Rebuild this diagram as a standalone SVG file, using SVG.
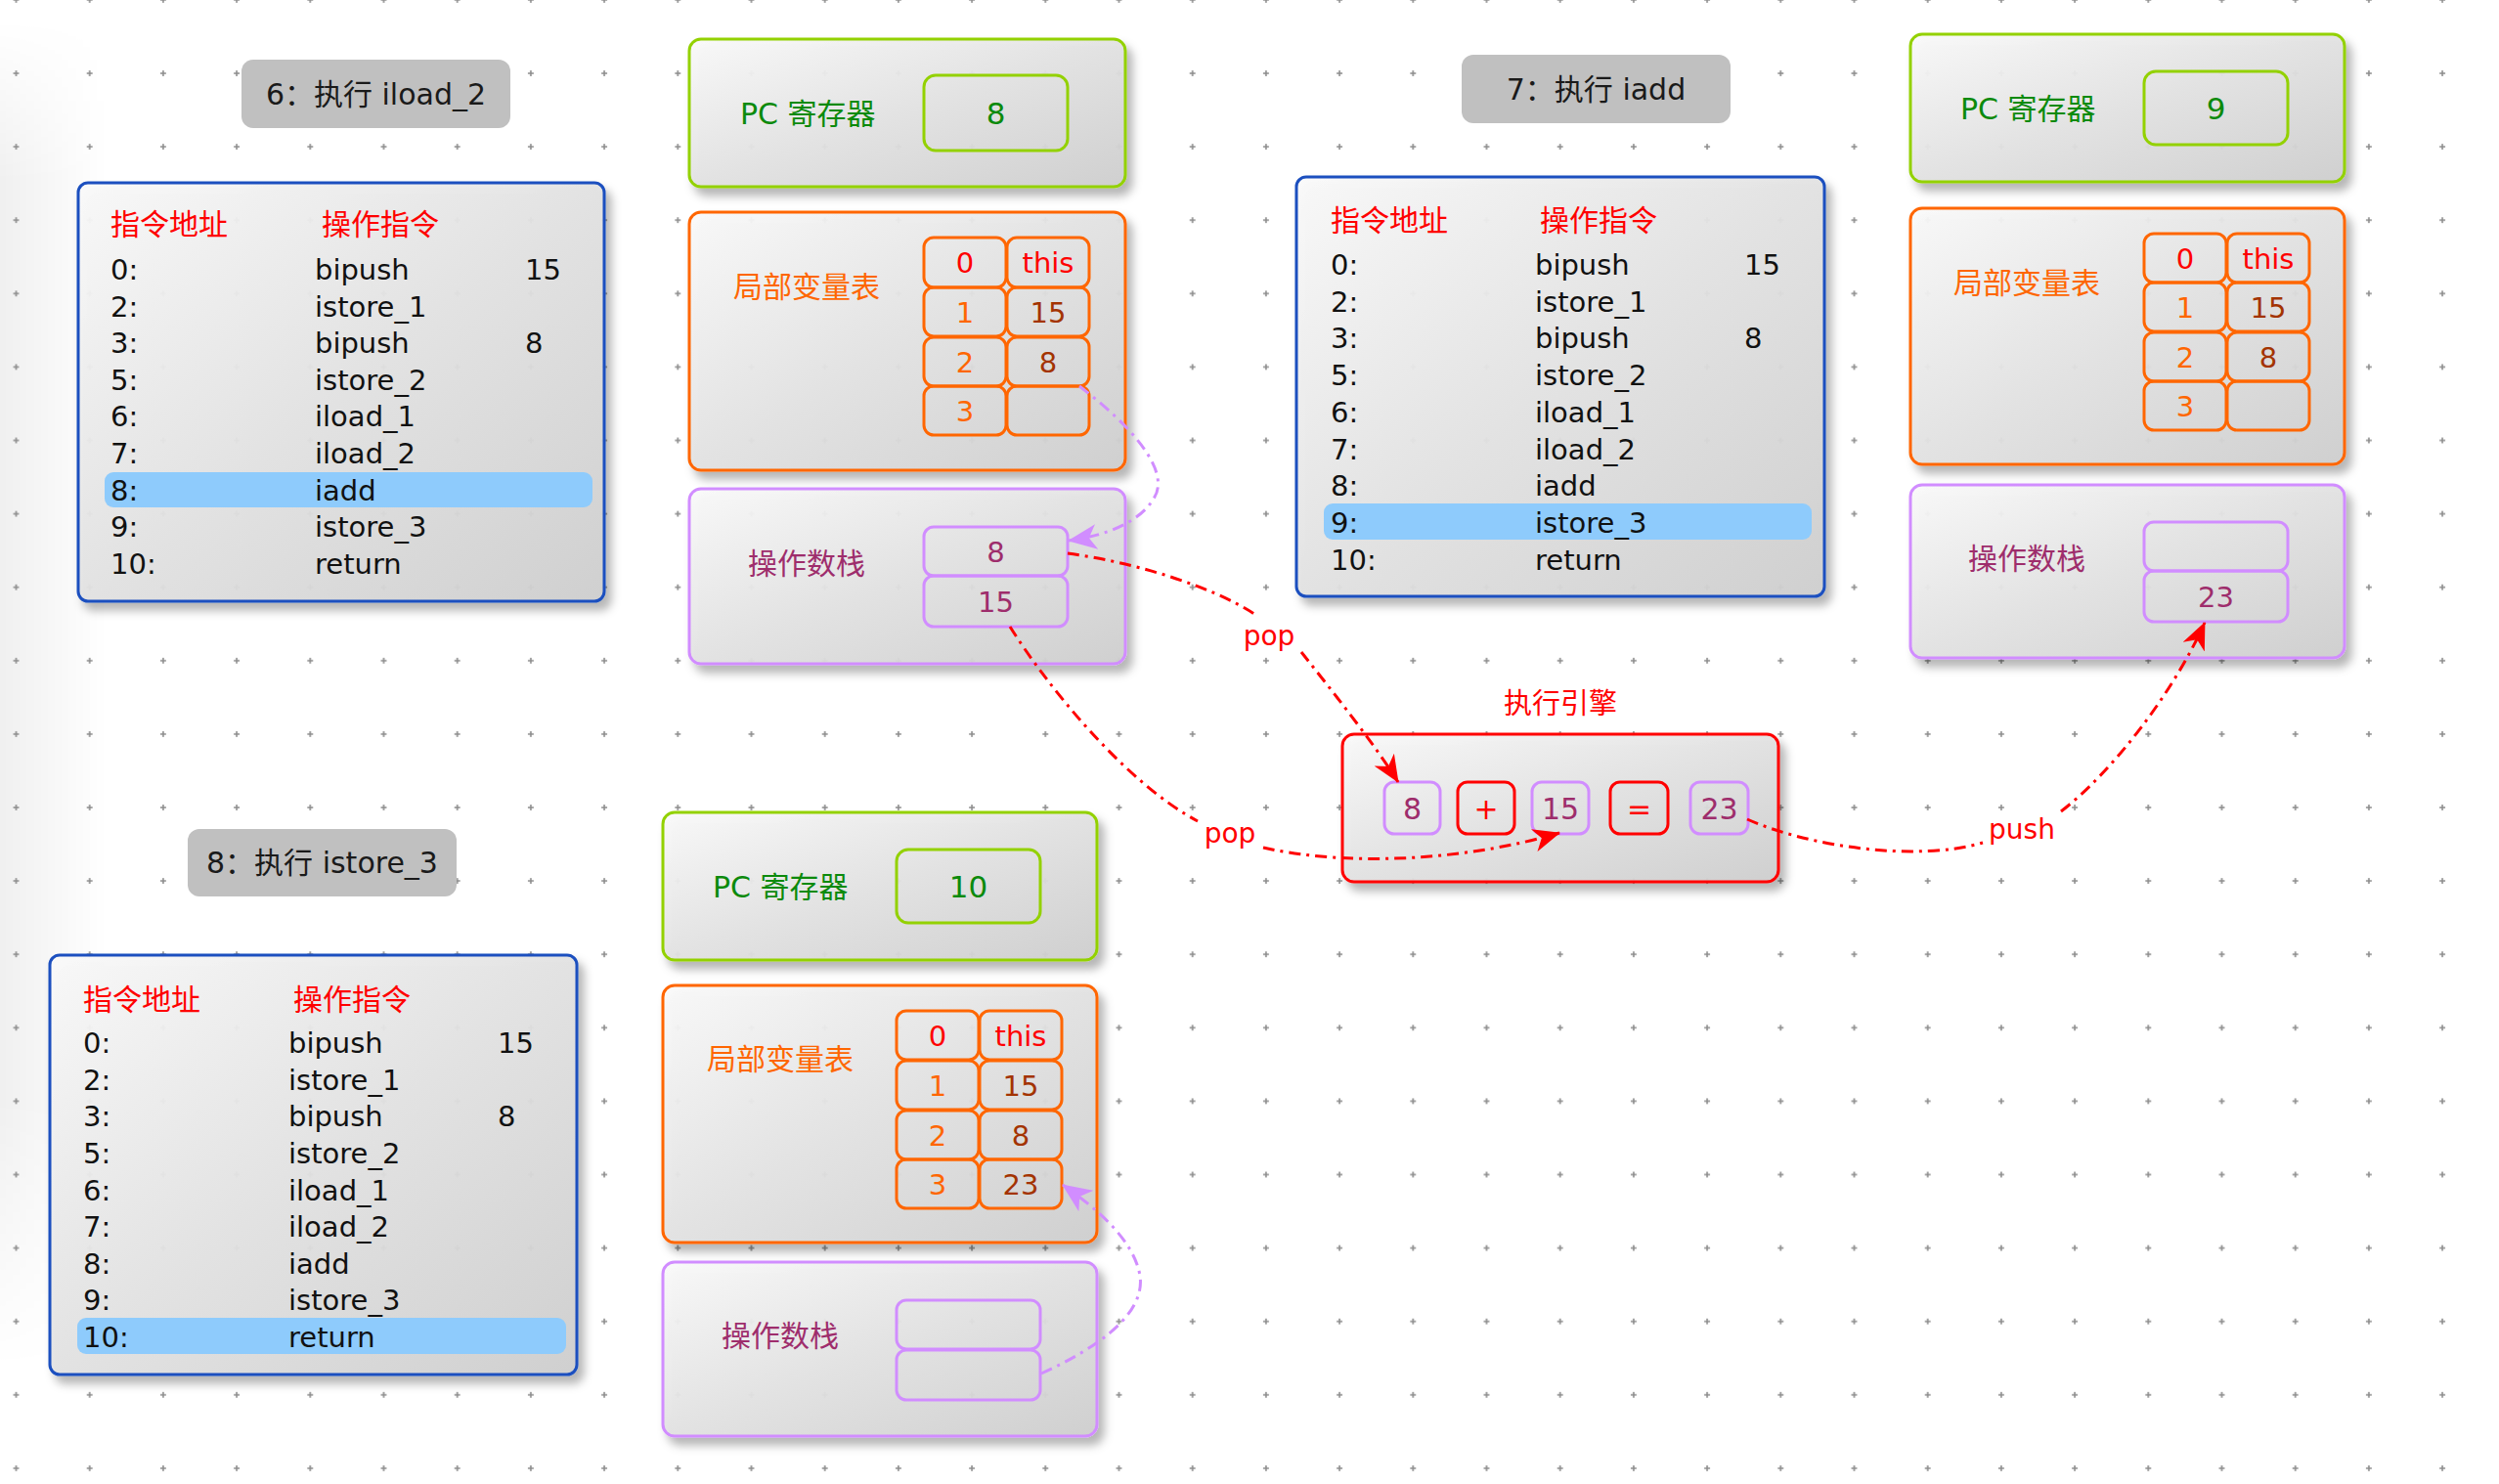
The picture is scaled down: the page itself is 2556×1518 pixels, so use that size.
<svg xmlns="http://www.w3.org/2000/svg" width="2556" height="1518" viewBox="0 0 2556 1518">
<defs>
<style>
text{font-family:"DejaVu Sans","Noto Sans CJK SC",sans-serif;}
.box{fill:url(#bg);stroke-width:3;filter:url(#sh)}
.cell{fill:none;stroke-width:3}
.bl{stroke:#1a4fbf}.gr{stroke:#93d100}.or{stroke:#ff6600}.pu{stroke:#d18dff}.rd{stroke:#ff0000}
.title{fill:#c0c0c0}
.tt{font-size:30px;fill:#1a1a1a;text-anchor:middle}
.hd{font-size:30px;fill:#ff0000}
.ls{font-size:29px;fill:#111}
.hl{fill:#8ecbfc}
.pc{font-size:30px;fill:#0c8a0c}
.lv{font-size:30px;fill:#ff6600}
.os{font-size:30px;fill:#9e2d6c}
.c{font-size:29px;text-anchor:middle}
.cr{fill:#ff0000}.co{fill:#ff6600}.cb{fill:#a33300}.cp{fill:#9e2d6c}.cg{fill:#0c8a0c}
.lnr{fill:none;stroke:#ff0000;stroke-width:3;stroke-dasharray:12 6 3 6}
.lnp{fill:none;stroke:#d18dff;stroke-width:3;stroke-dasharray:12 6 3 6}
.lab{font-size:28px;fill:#ff0000;text-anchor:middle}
</style>
<pattern id="grid" patternUnits="userSpaceOnUse" x="-21.1" y="-37.65" width="75.2" height="75.1">
<path d="M34.6,37.55h6M37.6,34.55v6" stroke="#8c8c8c" stroke-width="1.6"/>
</pattern>
<linearGradient id="bg" x1="0" y1="0" x2="1" y2="1">
<stop offset="0" stop-color="#fafafa" stop-opacity="0.94"/>
<stop offset="0.5" stop-color="#e3e3e3" stop-opacity="0.94"/>
<stop offset="1" stop-color="#cfcfcf" stop-opacity="0.94"/>
</linearGradient>
<linearGradient id="lside" x1="0" y1="0" x2="1" y2="0">
<stop offset="0" stop-color="#000" stop-opacity="0.06"/>
<stop offset="1" stop-color="#000" stop-opacity="0"/>
</linearGradient>
<linearGradient id="vfade" x1="0" y1="0" x2="0" y2="1">
<stop offset="0" stop-color="#fff" stop-opacity="0"/>
<stop offset="0.12" stop-color="#fff" stop-opacity="1"/>
<stop offset="0.8" stop-color="#fff" stop-opacity="1"/>
<stop offset="1" stop-color="#fff" stop-opacity="0"/>
</linearGradient>
<mask id="lmask" maskUnits="userSpaceOnUse" x="0" y="0" width="120" height="1518">
<rect x="0" y="20" width="120" height="1380" fill="url(#vfade)"/>
</mask>
<filter id="sh" x="-5%" y="-5%" width="115%" height="125%">
<feDropShadow dx="6" dy="8" stdDeviation="5" flood-color="#000" flood-opacity="0.3"/>
</filter>
<marker id="mr" viewBox="0 0 28 24" refX="27" refY="12" markerWidth="28" markerHeight="24" markerUnits="userSpaceOnUse" orient="auto">
<path d="M0,0 L28,12 L0,24 L8,12 Z" fill="#ff0000"/>
</marker>
<marker id="mp" viewBox="0 0 30 26" refX="29" refY="13" markerWidth="30" markerHeight="26" markerUnits="userSpaceOnUse" orient="auto">
<path d="M0,0 L30,13 L0,26 L8,13 Z" fill="#d18dff"/>
</marker>
</defs>
<rect width="2556" height="1518" fill="#fff"/>
<rect x="0" y="20" width="110" height="1380" fill="url(#lside)" mask="url(#lmask)"/>
<rect width="2556" height="1518" fill="url(#grid)"/>

<g id="title1"><rect class="title" x="247" y="61" width="275" height="70" rx="12"/><text class="tt" x="384.5" y="107">6：执行 iload_2</text></g>
<g id="title2"><rect class="title" x="1495" y="56" width="275" height="70" rx="12"/><text class="tt" x="1632.5" y="102">7：执行 iadd</text></g>
<g id="title3"><rect class="title" x="192" y="848" width="275" height="69" rx="12"/><text class="tt" x="329.5" y="893">8：执行 istore_3</text></g>

<g id="list1">
<rect class="box bl" x="80" y="187" width="538" height="428" rx="10"/>
<rect class="hl" x="107" y="483" width="499" height="36" rx="9"/>
<text class="hd" x="113" y="240">指令地址</text><text class="hd" x="329" y="240">操作指令</text>
<g class="ls">
<text x="113" y="286">0:</text><text x="322" y="286">bipush</text><text x="537" y="286">15</text>
<text x="113" y="324">2:</text><text x="322" y="324">istore_1</text>
<text x="113" y="361">3:</text><text x="322" y="361">bipush</text><text x="537" y="361">8</text>
<text x="113" y="399">5:</text><text x="322" y="399">istore_2</text>
<text x="113" y="436">6:</text><text x="322" y="436">iload_1</text>
<text x="113" y="474">7:</text><text x="322" y="474">iload_2</text>
<text x="113" y="512">8:</text><text x="322" y="512">iadd</text>
<text x="113" y="549">9:</text><text x="322" y="549">istore_3</text>
<text x="113" y="587">10:</text><text x="322" y="587">return</text>
</g>
</g>

<g id="list2">
<rect class="box bl" x="1326" y="181" width="540" height="429" rx="10"/>
<rect class="hl" x="1354" y="515" width="499" height="37" rx="9"/>
<text class="hd" x="1361" y="236">指令地址</text><text class="hd" x="1575" y="236">操作指令</text>
<g class="ls">
<text x="1361" y="281">0:</text><text x="1570" y="281">bipush</text><text x="1784" y="281">15</text>
<text x="1361" y="319">2:</text><text x="1570" y="319">istore_1</text>
<text x="1361" y="356">3:</text><text x="1570" y="356">bipush</text><text x="1784" y="356">8</text>
<text x="1361" y="394">5:</text><text x="1570" y="394">istore_2</text>
<text x="1361" y="432">6:</text><text x="1570" y="432">iload_1</text>
<text x="1361" y="470">7:</text><text x="1570" y="470">iload_2</text>
<text x="1361" y="507">8:</text><text x="1570" y="507">iadd</text>
<text x="1361" y="545">9:</text><text x="1570" y="545">istore_3</text>
<text x="1361" y="583">10:</text><text x="1570" y="583">return</text>
</g>
</g>

<g id="list3">
<rect class="box bl" x="51" y="977" width="539" height="429" rx="10"/>
<rect class="hl" x="79" y="1348" width="500" height="37" rx="9"/>
<text class="hd" x="85" y="1033">指令地址</text><text class="hd" x="300" y="1033">操作指令</text>
<g class="ls">
<text x="85" y="1077">0:</text><text x="295" y="1077">bipush</text><text x="509" y="1077">15</text>
<text x="85" y="1115">2:</text><text x="295" y="1115">istore_1</text>
<text x="85" y="1152">3:</text><text x="295" y="1152">bipush</text><text x="509" y="1152">8</text>
<text x="85" y="1190">5:</text><text x="295" y="1190">istore_2</text>
<text x="85" y="1228">6:</text><text x="295" y="1228">iload_1</text>
<text x="85" y="1265">7:</text><text x="295" y="1265">iload_2</text>
<text x="85" y="1303">8:</text><text x="295" y="1303">iadd</text>
<text x="85" y="1340">9:</text><text x="295" y="1340">istore_3</text>
<text x="85" y="1378">10:</text><text x="295" y="1378">return</text>
</g>
</g>

<!-- state 1 -->
<g id="pc1">
<rect class="box gr" x="705" y="40" width="446" height="151" rx="12"/>
<text class="pc" x="757" y="127">PC 寄存器</text>
<rect class="cell gr" x="945" y="77" width="147" height="77" rx="12"/>
<text class="c cg" x="1018.5" y="127" style="font-size:31px">8</text>
</g>
<g id="lv1">
<rect class="box or" x="705" y="217" width="446" height="264" rx="12"/>
<text class="lv" x="750" y="304">局部变量表</text>
<g class="cell or">
<rect x="945" y="243" width="84" height="51" rx="10"/><rect x="1030" y="243" width="84" height="51" rx="10"/>
<rect x="945" y="294" width="84" height="50" rx="10"/><rect x="1030" y="294" width="84" height="50" rx="10"/>
<rect x="945" y="345" width="84" height="50" rx="10"/><rect x="1030" y="345" width="84" height="50" rx="10"/>
<rect x="945" y="395" width="84" height="50" rx="10"/><rect x="1030" y="395" width="84" height="50" rx="10"/>
</g>
<text class="c cr" x="987" y="279">0</text><text class="c cr" x="1072" y="279">this</text>
<text class="c co" x="987" y="330">1</text><text class="c cb" x="1072" y="330">15</text>
<text class="c co" x="987" y="381">2</text><text class="c cb" x="1072" y="381">8</text>
<text class="c co" x="987" y="431">3</text>
</g>
<g id="os1">
<rect class="box pu" x="705" y="500" width="446" height="179" rx="12"/>
<text class="os" x="765" y="587">操作数栈</text>
<rect class="cell pu" x="945" y="539" width="147" height="50" rx="10"/>
<rect class="cell pu" x="945" y="589" width="147" height="52" rx="10"/>
<text class="c cp" x="1018.5" y="575">8</text>
<text class="c cp" x="1018.5" y="626">15</text>
</g>

<!-- state 2 -->
<g id="pc2">
<rect class="box gr" x="1954" y="35" width="444" height="151" rx="12"/>
<text class="pc" x="2005" y="122">PC 寄存器</text>
<rect class="cell gr" x="2193" y="73" width="147" height="75" rx="12"/>
<text class="c cg" x="2266.5" y="122" style="font-size:31px">9</text>
</g>
<g id="lv2">
<rect class="box or" x="1954" y="213" width="444" height="262" rx="12"/>
<text class="lv" x="1998" y="300">局部变量表</text>
<g class="cell or">
<rect x="2193" y="239" width="84" height="50" rx="10"/><rect x="2278" y="239" width="84" height="50" rx="10"/>
<rect x="2193" y="289" width="84" height="50" rx="10"/><rect x="2278" y="289" width="84" height="50" rx="10"/>
<rect x="2193" y="340" width="84" height="50" rx="10"/><rect x="2278" y="340" width="84" height="50" rx="10"/>
<rect x="2193" y="390" width="84" height="50" rx="10"/><rect x="2278" y="390" width="84" height="50" rx="10"/>
</g>
<text class="c cr" x="2235" y="275">0</text><text class="c cr" x="2320" y="275">this</text>
<text class="c co" x="2235" y="325">1</text><text class="c cb" x="2320" y="325">15</text>
<text class="c co" x="2235" y="376">2</text><text class="c cb" x="2320" y="376">8</text>
<text class="c co" x="2235" y="426">3</text>
</g>
<g id="os2">
<rect class="box pu" x="1954" y="496" width="444" height="177" rx="12"/>
<text class="os" x="2013" y="582">操作数栈</text>
<rect class="cell pu" x="2193" y="534" width="147" height="50" rx="10"/>
<rect class="cell pu" x="2193" y="584" width="147" height="52" rx="10"/>
<text class="c cp" x="2266.5" y="621">23</text>
</g>

<!-- state 3 -->
<g id="pc3">
<rect class="box gr" x="678" y="831" width="444" height="151" rx="12"/>
<text class="pc" x="729" y="918">PC 寄存器</text>
<rect class="cell gr" x="917" y="869" width="147" height="75" rx="12"/>
<text class="c cg" x="990.5" y="918" style="font-size:31px">10</text>
</g>
<g id="lv3">
<rect class="box or" x="678" y="1008" width="444" height="263" rx="12"/>
<text class="lv" x="723" y="1094">局部变量表</text>
<g class="cell or">
<rect x="917" y="1034" width="84" height="50" rx="10"/><rect x="1002" y="1034" width="84" height="50" rx="10"/>
<rect x="917" y="1085" width="84" height="50" rx="10"/><rect x="1002" y="1085" width="84" height="50" rx="10"/>
<rect x="917" y="1136" width="84" height="50" rx="10"/><rect x="1002" y="1136" width="84" height="50" rx="10"/>
<rect x="917" y="1186" width="84" height="50" rx="10"/><rect x="1002" y="1186" width="84" height="50" rx="10"/>
</g>
<text class="c cr" x="959" y="1070">0</text><text class="c cr" x="1044" y="1070">this</text>
<text class="c co" x="959" y="1121">1</text><text class="c cb" x="1044" y="1121">15</text>
<text class="c co" x="959" y="1172">2</text><text class="c cb" x="1044" y="1172">8</text>
<text class="c co" x="959" y="1222">3</text><text class="c cb" x="1044" y="1222">23</text>
</g>
<g id="os3">
<rect class="box pu" x="678" y="1291" width="444" height="178" rx="12"/>
<text class="os" x="738" y="1377">操作数栈</text>
<rect class="cell pu" x="917" y="1330" width="147" height="50" rx="10"/>
<rect class="cell pu" x="917" y="1381" width="147" height="51" rx="10"/>
</g>

<!-- engine -->
<g id="engine">
<text class="lab" x="1596" y="730" style="font-size:29px">执行引擎</text>
<rect class="box rd" x="1373" y="751" width="446" height="151" rx="12"/>
<rect class="cell pu" x="1416" y="800" width="57" height="53" rx="10"/>
<rect class="cell rd" x="1491" y="800" width="58" height="53" rx="10"/>
<rect class="cell pu" x="1567" y="800" width="58" height="53" rx="10"/>
<rect class="cell rd" x="1647" y="800" width="59" height="53" rx="10"/>
<rect class="cell pu" x="1729" y="800" width="59" height="53" rx="10"/>
<text class="c cp" x="1444.5" y="838" style="font-size:30px">8</text>
<text class="c cr" x="1520" y="838" style="font-size:30px">+</text>
<text class="c cp" x="1596" y="838" style="font-size:30px">15</text>
<text class="c cr" x="1676.5" y="838" style="font-size:30px">=</text>
<text class="c cp" x="1758.5" y="838" style="font-size:30px">23</text>
</g>

<g id="connectors">
<path class="lnp" d="M1104,395 C1150,430 1200,480 1180,510 C1165,535 1130,548 1093,553" marker-end="url(#mp)"/>
<path class="lnp" d="M1065,1405 C1120,1380 1172,1345 1166,1305 C1160,1268 1120,1235 1087,1212" marker-end="url(#mp)"/>
<path class="lnr" d="M1092,566 C1160,575 1240,600 1283,628"/>
<path class="lnr" d="M1331,667 C1365,710 1405,760 1430,800" marker-end="url(#mr)"/>
<path class="lnr" d="M1033,641 C1070,700 1150,800 1225,840"/>
<path class="lnr" d="M1292,867 C1380,887 1500,880 1595,852" marker-end="url(#mr)"/>
<path class="lnr" d="M1787,838 C1850,866 1960,882 2028,862"/>
<path class="lnr" d="M2108,830 C2160,790 2222,710 2255,637" marker-end="url(#mr)"/>
<text class="lab" x="1298" y="660">pop</text>
<text class="lab" x="1258" y="862">pop</text>
<text class="lab" x="2068" y="858">push</text>
</g>
</svg>
